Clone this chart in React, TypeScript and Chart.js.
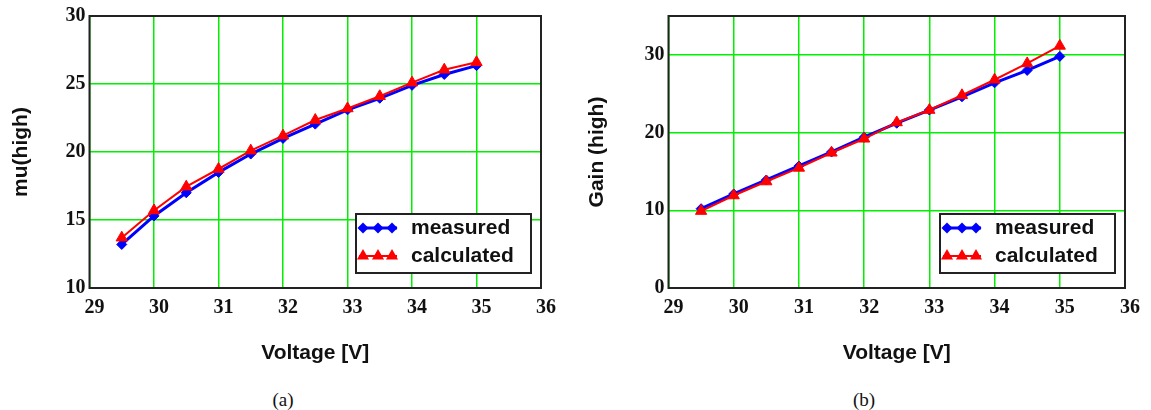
import React, { useEffect, useRef } from 'react';
import { Chart, registerables } from 'chart.js';

Chart.register(...registerables);

// ---- data ----
const voltage = [29.5, 30, 30.5, 31, 31.5, 32, 32.5, 33, 33.5, 34, 34.5, 35];
const muMeasured = [13.2, 15.3, 17.0, 18.5, 19.85, 21.0, 22.05, 23.1, 23.95, 24.9, 25.7, 26.35];
const muCalculated = [13.7, 15.7, 17.45, 18.75, 20.1, 21.2, 22.35, 23.2, 24.1, 25.1, 26.05, 26.6];
const gainMeasured = [10.2, 12.1, 13.9, 15.7, 17.5, 19.4, 21.2, 22.9, 24.6, 26.4, 28.0, 29.8];
const gainCalculated = [9.9, 11.9, 13.7, 15.45, 17.4, 19.2, 21.3, 22.9, 24.8, 26.8, 28.9, 31.15];
const xTicks = [29, 30, 31, 32, 33, 34, 35, 36];
const muTicks = [10, 15, 20, 25, 30];
const gainTicks = [0, 10, 20, 30];
const seriesNames = ['measured', 'calculated'];
const yTitles = ['mu(high)', 'Gain (high)'];
const xTitle = 'Voltage [V]';
const captions = ['(a)', '(b)'];

const GRID = '#00f000';
const SANS = "'Liberation Sans', Arial, sans-serif";
const SERIF = "'Liberation Serif', 'Times New Roman', serif";

function drawMarker(ctx: CanvasRenderingContext2D, style: string, x: number, y: number, r: number) {
  ctx.beginPath();
  if (style === 'triangle') {
    let rad = 0;
    ctx.moveTo(x + Math.sin(rad) * r, y - Math.cos(rad) * r);
    rad += (2 * Math.PI) / 3;
    ctx.lineTo(x + Math.sin(rad) * r, y - Math.cos(rad) * r);
    rad += (2 * Math.PI) / 3;
    ctx.lineTo(x + Math.sin(rad) * r, y - Math.cos(rad) * r);
  } else {
    ctx.moveTo(x, y - r);
    ctx.lineTo(x + r, y);
    ctx.lineTo(x, y + r);
    ctx.lineTo(x - r, y);
  }
  ctx.closePath();
  ctx.fill();
}

const framePlugin = {
  id: 'frameAndLegend',
  afterDraw(chart: any) {
    const ctx: CanvasRenderingContext2D = chart.ctx;
    const a = chart.chartArea;
    ctx.save();
    // plot frame
    ctx.strokeStyle = '#222';
    ctx.lineWidth = 2;
    ctx.strokeRect(a.left, a.top, a.right - a.left, a.bottom - a.top);
    // legend box
    const w = 175;
    const h = 59;
    const bx = a.right - 10 - w;
    const by = a.bottom - 15 - h;
    ctx.fillStyle = '#fff';
    ctx.fillRect(bx, by, w, h);
    ctx.strokeStyle = '#222';
    ctx.lineWidth = 2;
    ctx.strokeRect(bx, by, w, h);
    const rows = [by + 14, by + 42];
    chart.data.datasets.forEach((ds: any, i: number) => {
      const y = rows[i];
      ctx.strokeStyle = ds.borderColor;
      ctx.lineWidth = ds.borderWidth;
      ctx.beginPath();
      ctx.moveTo(bx + 3, y);
      ctx.lineTo(bx + 41, y);
      ctx.stroke();
      ctx.fillStyle = ds.borderColor;
      [7, 22, 36].forEach((dx) => drawMarker(ctx, ds.pointStyle, bx + dx, y, ds.pointRadius + 0.5));
      ctx.fillStyle = '#111';
      ctx.font = `bold 21px ${SANS}`;
      ctx.textBaseline = 'middle';
      ctx.textAlign = 'left';
      ctx.fillText(ds.label, bx + 55, y);
    });
    ctx.restore();
  },
};

interface PanelProps {
  left: number;
  width: number;
  yTitle: string;
  measured: number[];
  calculated: number[];
  yMin: number;
  yMax: number;
  yTicks: number[];
  yAxisWidth: number;
  padTop: number;
  padRight: number;
  yTitlePad: number;
}

function Panel(p: PanelProps) {
  const ref = useRef<HTMLCanvasElement>(null);
  useEffect(() => {
    if (!ref.current) return;
    const chart = new Chart(ref.current, {
      type: 'line',
      data: {
        datasets: [
          {
            label: seriesNames[0],
            data: voltage.map((v, i) => ({ x: v, y: p.measured[i] })),
            borderColor: '#0000ff',
            backgroundColor: '#0000ff',
            borderWidth: 3,
            pointStyle: 'rectRot',
            pointRadius: 5,
            pointBorderWidth: 1,
            pointBackgroundColor: '#0000ff',
            pointBorderColor: '#0000ff',
            order: 2,
          },
          {
            label: seriesNames[1],
            data: voltage.map((v, i) => ({ x: v, y: p.calculated[i] })),
            borderColor: '#ff0000',
            backgroundColor: '#ff0000',
            borderWidth: 2,
            pointStyle: 'triangle',
            pointRadius: 6.5,
            pointBorderWidth: 1,
            pointBackgroundColor: '#ff0000',
            pointBorderColor: '#ff0000',
            order: 1,
          },
        ],
      },
      options: {
        responsive: false,
        animation: false,
        devicePixelRatio: 1,
        layout: { padding: { top: p.padTop, right: p.padRight, bottom: 0, left: 0 } },
        plugins: { legend: { display: false }, tooltip: { enabled: false } },
        scales: {
          x: {
            type: 'linear',
            min: 29,
            max: 36,
            afterBuildTicks: (s: any) => {
              s.ticks = xTicks.map((v) => ({ value: v }));
            },
            afterFit: (s: any) => {
              s.height = 92;
            },
            grid: { color: GRID, lineWidth: 1.5, drawTicks: false },
            border: { display: false },
            ticks: {
              color: '#111',
              padding: 8,
              labelOffset: 5,
              maxRotation: 0,
              font: { family: SERIF, size: 20, weight: 'bold' },
            },
            title: {
              display: true,
              text: xTitle,
              color: '#111',
              font: { family: SANS, size: 21, weight: 'bold' },
              padding: { top: 0, bottom: 14 },
            },
          },
          y: {
            type: 'linear',
            min: p.yMin,
            max: p.yMax,
            afterBuildTicks: (s: any) => {
              s.ticks = p.yTicks.map((v) => ({ value: v }));
            },
            afterFit: (s: any) => {
              s.width = p.yAxisWidth;
            },
            grid: { color: GRID, lineWidth: 1.5, drawTicks: false },
            border: { display: false },
            ticks: {
              color: '#111',
              padding: 4,
              font: { family: SERIF, size: 20, weight: 'bold' },
            },
            title: {
              display: true,
              text: p.yTitle,
              color: '#111',
              font: { family: SANS, size: 21, weight: 'bold' },
              padding: { top: p.yTitlePad, bottom: 0 },
            },
          },
        },
      } as any,
      plugins: [framePlugin],
    });
    return () => chart.destroy();
  }, []);
  return (
    <div style={{ position: 'absolute', left: p.left, top: 0, width: p.width, height: 380 }}>
      <canvas ref={ref} width={p.width} height={380} style={{ width: p.width, height: 380, display: 'block' }} />
    </div>
  );
}

export default function App() {
  return (
    <div
      style={{
        position: 'fixed',
        left: 0,
        top: 0,
        width: 1151,
        height: 410,
        background: '#fff',
        overflow: 'hidden',
      }}
    >
      <Panel
        left={0}
        width={575}
        yTitle={yTitles[0]}
        measured={muMeasured}
        calculated={muCalculated}
        yMin={10}
        yMax={30}
        yTicks={muTicks}
        yAxisWidth={89.5}
        padTop={14.5}
        padRight={34}
        yTitlePad={8.4}
      />
      <Panel
        left={575}
        width={576}
        yTitle={yTitles[1]}
        measured={gainMeasured}
        calculated={gainCalculated}
        yMin={0}
        yMax={35}
        yTicks={gainTicks}
        yAxisWidth={93.5}
        padTop={11}
        padRight={26}
        yTitlePad={10}
      />
      {captions.map((c, i) => (
        <div
          key={c}
          style={{
            position: 'absolute',
            left: (i === 0 ? 283 : 864) - 50,
            top: 389,
            width: 100,
            textAlign: 'center',
            fontFamily: SERIF,
            fontSize: 19,
            lineHeight: '22px',
            color: '#111',
          }}
        >
          {c}
        </div>
      ))}
    </div>
  );
}
